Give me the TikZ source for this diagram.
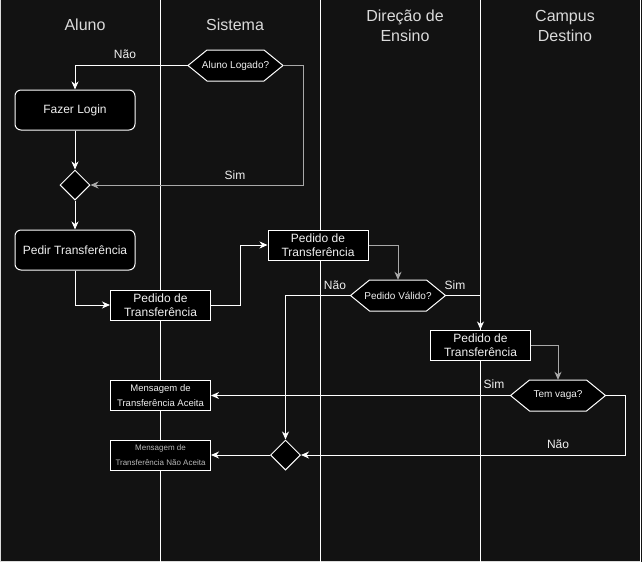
\documentclass[tikz,border=0pt]{standalone}
\usepackage{fontspec}
\setmainfont{Liberation Sans}
\usetikzlibrary{shapes.geometric,arrows.meta}
\definecolor{bgcol}{HTML}{121212}
\definecolor{txtcol}{HTML}{F0F0F0}
\definecolor{titcol}{HTML}{DADADA}
\definecolor{greyline}{HTML}{A8A8A8}
\definecolor{dimtxt}{HTML}{B8B8B8}
\tikzset{
  tit/.style={text=titcol, font=\fontsize{16}{20}\selectfont, align=center, inner sep=0pt},
  lbl/.style={text=txtcol, font=\fontsize{12}{14}\selectfont, inner sep=0pt},
  act/.style={draw=white, fill=black, text=txtcol, rounded corners=6pt, line width=1pt,
    minimum width=120pt, minimum height=40pt, font=\fontsize{12}{14}\selectfont},
  obj/.style={draw=white, fill=black, text=txtcol, line width=1pt, inner sep=0pt, align=center,
    minimum width=100pt, minimum height=30pt, font=\fontsize{12}{14.5}\selectfont},
  msg/.style={obj, font=\fontsize{9.5}{14.5}\selectfont},
  hexbox/.style={rectangle, text=txtcol, inner sep=0pt,
    minimum width=95pt, minimum height=31pt, font=\fontsize{10}{12}\selectfont},
  hexline/.style={draw=white, fill=black, line width=1pt},
  merge/.style={diamond, draw=white, fill=black, line width=1pt, inner sep=0pt,
    minimum width=30pt, minimum height=30pt},
  flow/.style={draw=white, line width=1pt, -{Stealth[length=8pt,width=7pt,inset=2.5pt]}},
}
% decision hexagon: name, position, text
\newcommand\decision[3]{%
  \filldraw[hexline] (#2) ++(-47.5,0) -- ++(19,-15.5) -- ++(57,0) -- ++(19,15.5)
    -- ++(-19,15.5) -- ++(-57,0) -- cycle;
  \node[hexbox] (#1) at (#2) {#3};
}
\begin{document}
\begin{tikzpicture}[x=1pt,y=-1pt]
\fill[bgcol] (0,0) rectangle (642,562);
\useasboundingbox (0,0) rectangle (642,562);
% lanes
\draw[greyline!40, line width=1pt] (0.5,0) -- (0.5,561.5) -- (640,561.5);
\foreach \lx in {160,320,480,640}
  \draw[white, line width=1pt] (\lx,0) -- (\lx,562);
\node[tit] (tAluno) at (85,25) {Aluno};
\node[tit] (tSistema) at (235,25) {Sistema};
\node[tit] (tDirecao) at (405,26) {Direção de\\Ensino};
\node[tit] (tCampus) at (565,26) {Campus\\Destino};
% nodes
\decision{logado}{235.5,65.5}{Aluno Logado?}
\node[act] (login) at (75,110) {Fazer Login};
\node[merge] (merge1) at (75,185) {};
\node[act] (pedir) at (75,250) {Pedir Transferência};
\node[obj] (pedSis) at (160.5,305) {Pedido de\\Transferência};
\node[obj] (pedDir) at (318,245) {Pedido de\\Transferência};
\decision{valido}{398,295.5}{Pedido Válido?}
\node[obj] (pedCamp) at (480.5,345) {Pedido de\\Transferência};
\decision{vaga}{558,395.5}{Tem vaga?}
\node[msg] (aceita) at (160.5,395.5) {Mensagem de\\Transferência Aceita};
\node[msg, text=dimtxt, font=\fontsize{8}{14.5}\selectfont] (naoAceita) at (160.5,455) {Mensagem de\\Transferência Não Aceita};
\node[merge] (merge2) at (285.5,455) {};
% labels
\node[lbl] (lNao1) at (125,54) {Não};
\node[lbl] (lSim1) at (235,175) {Sim};
\node[lbl] (lNao2) at (335,285) {Não};
\node[lbl] (lSim2) at (455,285) {Sim};
\node[lbl] (lSim3) at (494,384) {Sim};
\node[lbl] (lNao3) at (558,444) {Não};
% connectors
\draw[flow] (logado.west) -| (login.north);
\draw[flow, draw=greyline] (logado.east) -- (303,65.5) |- (merge1.east);
\draw[flow] (login) -- (merge1);
\draw[flow] (merge1) -- (pedir);
\draw[flow] (pedir.south) |- (pedSis.west);
\draw[flow] (pedSis.east) -- ++(29.5,0) |- (pedDir.west);
\draw[flow, draw=greyline] (pedDir.east) -| (valido.north);
\draw[flow] (valido.east) -| (pedCamp.north);
\draw[flow, draw=greyline] (pedCamp.east) -| (vaga.north);
\draw[flow] (vaga.west) -- (aceita.east);
\draw[flow] (vaga.east) -- (625.5,395.5) |- (merge2.east);
\draw[flow] (valido.west) -| (merge2.north);
\draw[flow] (merge2.west) -- (naoAceita.east);
\end{tikzpicture}
\end{document}
